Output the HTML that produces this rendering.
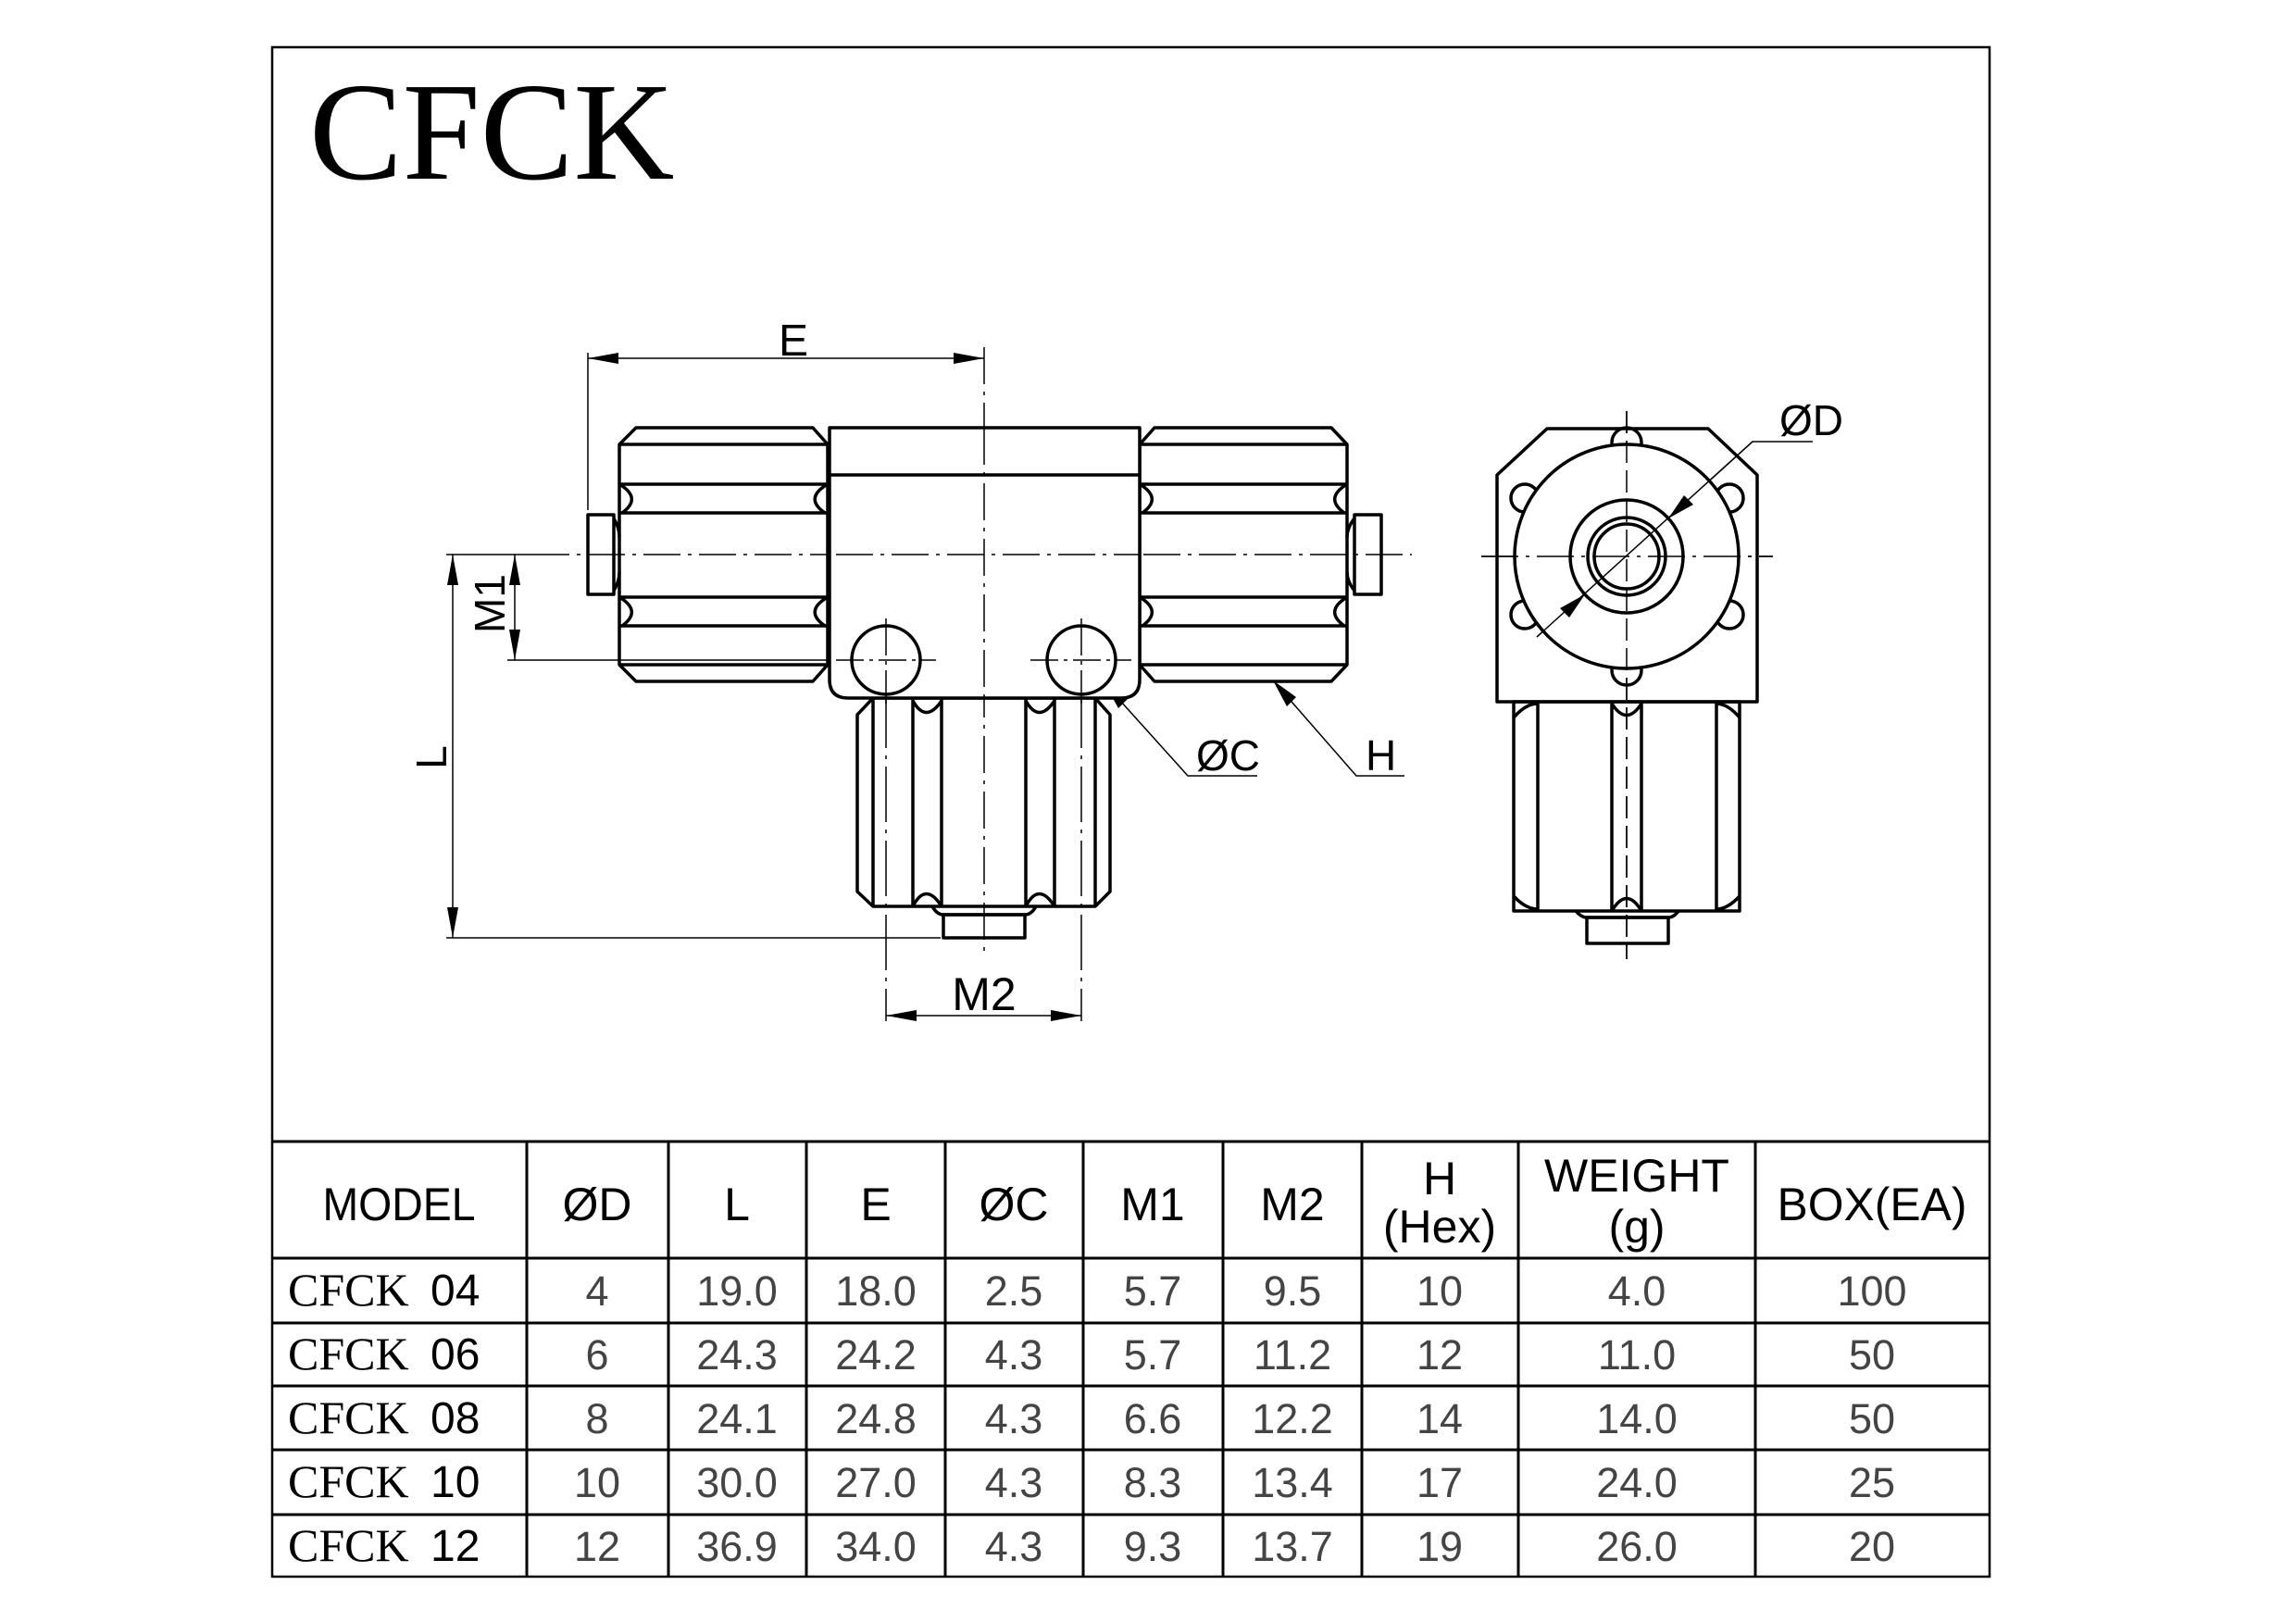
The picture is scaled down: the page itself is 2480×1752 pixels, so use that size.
<!DOCTYPE html>
<html><head><meta charset="utf-8"><style>
html,body{margin:0;padding:0;background:#fff;}
svg{display:block;}
.t{font-family:"Liberation Sans",sans-serif;}
.s{font-family:"Liberation Serif",serif;}
</style></head><body>
<svg width="2480" height="1752" viewBox="0 0 2480 1752" xmlns="http://www.w3.org/2000/svg">
<rect x="0" y="0" width="2480" height="1752" fill="#fff"/>
<!-- border -->
<rect x="294" y="51" width="1855" height="1652" fill="none" stroke="#000" stroke-width="2.5"/>
<text x="334" y="193" class="s" font-size="151" fill="#000">CFCK</text>

<g fill="none" stroke="#000" stroke-width="1.5">
 <!-- center lines -->
 <line x1="575" y1="599" x2="1525" y2="599" stroke-dasharray="40 8 4 8"/>
 <line x1="1063" y1="375" x2="1063" y2="1030" stroke-dasharray="40 8 4 8"/>
 <line x1="957" y1="668" x2="957" y2="1103" stroke-dasharray="60 8 4 8"/>
 <line x1="1168" y1="668" x2="1168" y2="1103" stroke-dasharray="60 8 4 8"/>
 <line x1="903" y1="713" x2="1011" y2="713" stroke-dasharray="30 6 4 6"/>
 <line x1="1113" y1="713" x2="1222" y2="713" stroke-dasharray="30 6 4 6"/>
 <!-- E dim -->
 <line x1="635" y1="381" x2="635" y2="551"/>
 <line x1="635" y1="387" x2="1063" y2="387"/>
 <!-- L / M1 -->
 <line x1="482" y1="599" x2="575" y2="599"/>
 <line x1="489" y1="599" x2="489" y2="1013"/>
 <line x1="482" y1="1013" x2="1016" y2="1013"/>
 <line x1="548" y1="713" x2="900" y2="713"/>
 <line x1="556" y1="599" x2="556" y2="713"/>
 <!-- M2 -->
 <line x1="957" y1="1097" x2="1168" y2="1097"/>
 <!-- leaders -->
 <polyline points="1193,738 1283,838 1358,838"/>
 <polyline points="1375,735 1465,838 1517,838"/>
 <!-- side view center lines -->
 <line x1="1600" y1="601" x2="1915" y2="601" stroke-dasharray="40 8 4 8"/>
 <line x1="1757" y1="444" x2="1757" y2="1036" stroke-dasharray="24 8"/>
 <polyline points="1660,688 1893,477 1958,477"/>
</g>
<g fill="#000">
 <polygon points="635,387 668,381 668,393"/>
 <polygon points="1063,387 1030,381 1030,393"/>
 <polygon points="556,599 550,632 562,632"/>
 <polygon points="556,713 550,680 562,680"/>
 <polygon points="489,599 483,632 495,632"/>
 <polygon points="489,1013 483,980 495,980"/>
 <polygon points="957,1097 990,1091 990,1103"/>
 <polygon points="1168,1097 1135,1091 1135,1103"/>
 <polygon points="1193,738 1208,765 1218,755"/>
 <polygon points="1375,735 1390,763 1400,753"/>
 <polygon points="1802,560 1819,535 1829,545"/>
 <polygon points="1712,642 1695,667 1685,657"/>
</g>

<!-- main view -->
<g fill="none" stroke="#000" stroke-width="3.5" stroke-linejoin="round">
 <!-- left nut -->
 <polygon points="687,462 878,462 894,480 894,718 878,736 687,736 669,718 669,480"/>
 <line x1="669" y1="480" x2="894" y2="480"/>
 <line x1="669" y1="718" x2="894" y2="718"/>
 <line x1="669" y1="523" x2="894" y2="523"/>
 <line x1="669" y1="554" x2="894" y2="554"/>
 <line x1="669" y1="645" x2="894" y2="645"/>
 <line x1="669" y1="676" x2="894" y2="676"/>
 <path d="M669,523 Q694,538 672,554 M894,523 Q868,538 891,554 M669,645 Q694,660 672,676 M894,645 Q868,660 891,676"/>
 <rect x="635" y="556" width="28" height="86"/>
 <path d="M663,560 Q669,570 669,580 M663,638 Q669,628 669,618"/>
 <!-- right nut -->
 <polygon points="1247,462 1438,462 1455,480 1455,718 1438,736 1247,736 1231,718 1231,480"/>
 <line x1="1231" y1="480" x2="1455" y2="480"/>
 <line x1="1231" y1="718" x2="1455" y2="718"/>
 <line x1="1231" y1="523" x2="1455" y2="523"/>
 <line x1="1231" y1="554" x2="1455" y2="554"/>
 <line x1="1231" y1="645" x2="1455" y2="645"/>
 <line x1="1231" y1="676" x2="1455" y2="676"/>
 <path d="M1231,523 Q1256,538 1234,554 M1455,523 Q1430,538 1452,554 M1231,645 Q1256,660 1234,676 M1455,645 Q1430,660 1452,676"/>
 <rect x="1463" y="556" width="29" height="86"/>
 <path d="M1463,560 Q1455,570 1455,580 M1463,638 Q1455,628 1455,618"/>
 <!-- bottom branch -->
 <polygon points="943,754 1183,754 1199,772 1199,963 1183,979 943,979 926,963 926,772"/>
 <line x1="943" y1="754" x2="943" y2="979"/>
 <line x1="1183" y1="754" x2="1183" y2="979"/>
 <line x1="986" y1="754" x2="986" y2="979"/>
 <line x1="1017" y1="754" x2="1017" y2="979"/>
 <line x1="1108" y1="754" x2="1108" y2="979"/>
 <line x1="1139" y1="754" x2="1139" y2="979"/>
 <path d="M986,757 Q1000,782 1017,757 M1108,757 Q1122,782 1139,757 M986,979 Q1000,952 1017,979 M1108,979 Q1122,952 1139,979"/>
 <path d="M1007,979 Q1012,988 1019,988 L1107,988 Q1114,988 1119,979"/>
 <rect x="1019" y="988" width="88" height="25"/>
 <!-- body -->
 <path d="M896,462 L1231,462 L1231,734 Q1231,754 1211,754 L916,754 Q896,754 896,734 Z" fill="#fff"/>
 <line x1="896" y1="513" x2="1231" y2="513"/>
 <circle cx="957" cy="713" r="37"/>
 <circle cx="1168" cy="713" r="37"/>
</g>
<g fill="none" stroke="#000" stroke-width="1.5">
 <line x1="1063" y1="462" x2="1063" y2="754" stroke-dasharray="40 8 4 8"/>
 <line x1="903" y1="599" x2="1231" y2="599" stroke-dasharray="40 8 4 8"/>
 <line x1="957" y1="668" x2="957" y2="760" stroke-dasharray="40 6 4 6"/>
 <line x1="1168" y1="668" x2="1168" y2="760" stroke-dasharray="40 6 4 6"/>
 <line x1="903" y1="713" x2="1011" y2="713" stroke-dasharray="30 6 4 6"/>
 <line x1="1113" y1="713" x2="1222" y2="713" stroke-dasharray="30 6 4 6"/>
</g>

<!-- side view -->
<g fill="none" stroke="#000" stroke-width="3.5" stroke-linejoin="round">
 <polygon points="1671,463 1845,463 1898,513 1898,758 1617,758 1617,513"/>
 <circle cx="1757" cy="478" r="16"/>
 <circle cx="1757" cy="724" r="16"/>
 <circle cx="1647" cy="538" r="15"/>
 <circle cx="1647" cy="664" r="15"/>
 <circle cx="1868" cy="538" r="15"/>
 <circle cx="1868" cy="664" r="15"/>
 <circle cx="1757" cy="601" r="121" fill="#fff"/>
 <circle cx="1757" cy="601" r="61"/>
 <circle cx="1757" cy="601" r="42"/>
 <circle cx="1757" cy="601" r="35"/>
 <rect x="1635" y="758" width="244" height="226"/>
 <line x1="1661" y1="758" x2="1661" y2="984"/>
 <line x1="1741" y1="758" x2="1741" y2="984"/>
 <line x1="1773" y1="758" x2="1773" y2="984"/>
 <line x1="1854" y1="758" x2="1854" y2="984"/>
 <path d="M1741,760 Q1757,785 1773,760 M1741,984 Q1757,957 1773,984 M1635,775 Q1648,760 1661,760 M1879,775 Q1866,760 1854,760 M1635,968 Q1648,982 1661,982 M1879,968 Q1866,982 1854,982"/>
 <path d="M1702,984 Q1708,991 1714,991 L1802,991 Q1808,991 1813,984"/>
 <rect x="1714" y="991" width="88" height="28"/>
</g>
<g fill="none" stroke="#000" stroke-width="1.5">
 <line x1="1600" y1="601" x2="1915" y2="601" stroke-dasharray="40 8 4 8"/>
 <line x1="1757" y1="444" x2="1757" y2="1036" stroke-dasharray="24 8"/>
 <line x1="1660" y1="688" x2="1893" y2="477"/>
</g>
<g fill="#000">
 <polygon points="1802,560 1819,535 1829,545"/>
 <polygon points="1712,642 1695,667 1685,657"/>
</g>

<!-- dimension labels -->
<g class="t" fill="#000" font-size="48">
 <text x="857" y="384" text-anchor="middle">E</text>
 <text x="1063" y="1091" text-anchor="middle" font-size="50">M2</text>
 <text x="1292" y="832" font-size="46">ØC</text>
 <text x="1475" y="832" font-size="46">H</text>
 <text x="1922" y="470" font-size="46">ØD</text>
 <text transform="translate(545,652) rotate(-90)" text-anchor="middle" font-size="46">M1</text>
 <text transform="translate(482,818) rotate(-90)" text-anchor="middle" font-size="46">L</text>
</g>

<!-- table -->
<g stroke="#000" stroke-width="3" fill="none">
 <line x1="294" y1="1233" x2="2149" y2="1233"/>
 <line x1="294" y1="1359" x2="2149" y2="1359"/>
 <line x1="294" y1="1429" x2="2149" y2="1429"/>
 <line x1="294" y1="1497" x2="2149" y2="1497"/>
 <line x1="294" y1="1566" x2="2149" y2="1566"/>
 <line x1="294" y1="1636" x2="2149" y2="1636"/>
 <line x1="569" y1="1233" x2="569" y2="1703"/>
 <line x1="722" y1="1233" x2="722" y2="1703"/>
 <line x1="871" y1="1233" x2="871" y2="1703"/>
 <line x1="1021" y1="1233" x2="1021" y2="1703"/>
 <line x1="1170" y1="1233" x2="1170" y2="1703"/>
 <line x1="1321" y1="1233" x2="1321" y2="1703"/>
 <line x1="1471" y1="1233" x2="1471" y2="1703"/>
 <line x1="1640" y1="1233" x2="1640" y2="1703"/>
 <line x1="1896" y1="1233" x2="1896" y2="1703"/>
</g>
<g class="t" fill="#000" font-size="50" text-anchor="middle">
 <text x="431" y="1318" textLength="165" lengthAdjust="spacingAndGlyphs">MODEL</text>
 <text x="645" y="1318">ØD</text>
 <text x="796" y="1318">L</text>
 <text x="946" y="1318">E</text>
 <text x="1095" y="1318">ØC</text>
 <text x="1245" y="1318">M1</text>
 <text x="1396" y="1318">M2</text>
 <text x="1555" y="1290">H</text>
 <text x="1555" y="1342">(Hex)</text>
 <text x="1768" y="1287">WEIGHT</text>
 <text x="1768" y="1342">(g)</text>
 <text x="2022" y="1318" textLength="205" lengthAdjust="spacingAndGlyphs">BOX(EA)</text>
</g>
<g fill="#000">
 <text x="311" y="1410" class="s" font-size="50">CFCK</text><text x="465" y="1410" class="t" font-size="48">04</text>
 <text x="311" y="1479" class="s" font-size="50">CFCK</text><text x="465" y="1479" class="t" font-size="48">06</text>
 <text x="311" y="1548" class="s" font-size="50">CFCK</text><text x="465" y="1548" class="t" font-size="48">08</text>
 <text x="311" y="1617" class="s" font-size="50">CFCK</text><text x="465" y="1617" class="t" font-size="48">10</text>
 <text x="311" y="1686" class="s" font-size="50">CFCK</text><text x="465" y="1686" class="t" font-size="48">12</text>
</g>
<g class="t" fill="#444" font-size="45" text-anchor="middle">
 <text x="645" y="1410">4</text><text x="796" y="1410">19.0</text><text x="946" y="1410">18.0</text><text x="1095" y="1410">2.5</text><text x="1245" y="1410">5.7</text><text x="1396" y="1410">9.5</text><text x="1555" y="1410">10</text><text x="1768" y="1410">4.0</text><text x="2022" y="1410">100</text>
 <text x="645" y="1479">6</text><text x="796" y="1479">24.3</text><text x="946" y="1479">24.2</text><text x="1095" y="1479">4.3</text><text x="1245" y="1479">5.7</text><text x="1396" y="1479">11.2</text><text x="1555" y="1479">12</text><text x="1768" y="1479">11.0</text><text x="2022" y="1479">50</text>
 <text x="645" y="1548">8</text><text x="796" y="1548">24.1</text><text x="946" y="1548">24.8</text><text x="1095" y="1548">4.3</text><text x="1245" y="1548">6.6</text><text x="1396" y="1548">12.2</text><text x="1555" y="1548">14</text><text x="1768" y="1548">14.0</text><text x="2022" y="1548">50</text>
 <text x="645" y="1617">10</text><text x="796" y="1617">30.0</text><text x="946" y="1617">27.0</text><text x="1095" y="1617">4.3</text><text x="1245" y="1617">8.3</text><text x="1396" y="1617">13.4</text><text x="1555" y="1617">17</text><text x="1768" y="1617">24.0</text><text x="2022" y="1617">25</text>
 <text x="645" y="1686">12</text><text x="796" y="1686">36.9</text><text x="946" y="1686">34.0</text><text x="1095" y="1686">4.3</text><text x="1245" y="1686">9.3</text><text x="1396" y="1686">13.7</text><text x="1555" y="1686">19</text><text x="1768" y="1686">26.0</text><text x="2022" y="1686">20</text>
</g>
</svg>
</body></html>
